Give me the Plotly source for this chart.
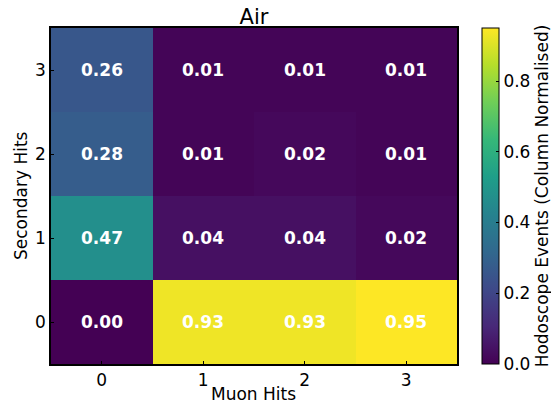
import plotly.graph_objects as go

muon_hits = [0, 1, 2, 3]
secondary_hits = [0, 1, 2, 3]

# rows = secondary hits (bottom to top), columns = muon hits
fractions = [
    [0.00, 0.93, 0.93, 0.95],
    [0.47, 0.04, 0.04, 0.02],
    [0.28, 0.01, 0.02, 0.01],
    [0.26, 0.01, 0.01, 0.01],
]

FONT = "DejaVu Sans"

# the page body adds an 8px offset, so the figure is sized/placed to compensate
W, H = 551, 400
L, R, T, B = 43, 102, 20, 44
PW, PH = W - L - R, H - T - B

fig = go.Figure(go.Heatmap(
    x=muon_hits,
    y=secondary_hits,
    z=fractions,
    colorscale="Viridis",
    zmin=0,
    zmax=max(max(r) for r in fractions),
    texttemplate="%{z:.2f}",
    textfont=dict(family=FONT, size=17, color="white", weight="bold"),
    colorbar=dict(
        thickness=17,
        len=1, lenmode="fraction",
        x=431 / PW, xanchor="left", xpad=0, ypad=0,
        y=0.5, yanchor="middle",
        outlinecolor="black", outlinewidth=1,
        ticks="inside", ticklen=3, tickcolor="black",
        tickvals=[0, 0.2, 0.4, 0.6, 0.8],
        tickformat=".1f",
        tickfont=dict(family=FONT, size=17, color="black"),
        title=dict(text="Hodoscope Events (Column Normalised)", side="right",
                   font=dict(family=FONT, size=17, color="black")),
    ),
    hovertemplate="Muon %{x}<br>Secondary %{y}<br>%{z:.2f}<extra></extra>",
))

axis_style = dict(
    range=[-0.5, 3.5],
    tickvals=[0, 1, 2, 3],
    showgrid=False, zeroline=False, automargin=False,
    showline=True, linecolor="black", linewidth=1.5, mirror=True,
    ticks="inside", ticklen=3, tickcolor="black",
    tickfont=dict(family=FONT, size=17, color="black"),
)

# axis titles placed as paper annotations so they sit exactly where wanted
fig.add_annotation(text="Muon Hits", xref="paper", yref="paper",
                   x=(245 - L) / PW, y=-(386 - (T + PH)) / PH,
                   xanchor="center", yanchor="middle", showarrow=False,
                   font=dict(family=FONT, size=17, color="black"))
fig.add_annotation(text="Secondary Hits", xref="paper", yref="paper",
                   x=(13 - L) / PW, y=0.5, textangle=-90,
                   xanchor="center", yanchor="middle", showarrow=False,
                   font=dict(family=FONT, size=17, color="black"))

fig.update_layout(
    width=W, height=H,
    margin=dict(l=L, r=R, t=T, b=B, autoexpand=False),
    paper_bgcolor="white",
    plot_bgcolor="white",
    font=dict(family=FONT, color="black", size=17),
    title=dict(text="Air", x=(L + PW / 2) / W, xanchor="center",
               y=1 - 1 / H, yanchor="top", pad=dict(t=0, b=0),
               font=dict(family=FONT, size=21, color="black")),
    xaxis=axis_style,
    yaxis=axis_style,
)

fig.write_html("out.html")
